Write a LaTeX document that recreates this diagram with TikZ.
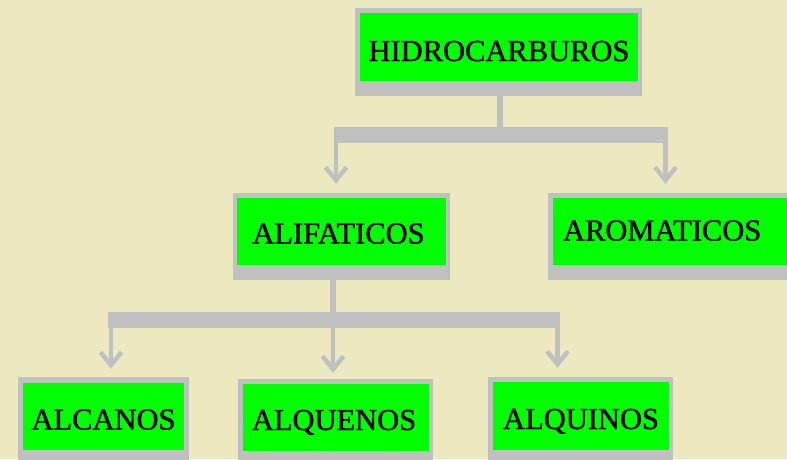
\documentclass[tikz,border=0pt]{standalone}
\usepackage{fontspec}
\setmainfont{Liberation Serif}
\newfontfamily\heavyserif[FakeBold=1.2]{Liberation Serif}
\usetikzlibrary{arrows.meta}
\definecolor{bgc}{RGB}{236,233,192}
\definecolor{greyc}{RGB}{192,192,192}
\definecolor{limec}{RGB}{0,255,0}
\begin{document}
\begin{tikzpicture}[x=1pt,y=-1pt,
  gframe/.style={fill=greyc, draw=none, inner sep=0pt, minimum width=#1},
  gbox/.style={fill=limec, draw=none, inner sep=0pt, minimum width=#1,
    font=\heavyserif\fontsize{30.5}{32}\selectfont, text=black, text height=26pt, text depth=0pt},
  stem/.style={draw=greyc, line width=6.5pt},
  bar/.style={draw=greyc, line width=16pt},
  down/.style={draw=greyc, line width=4.5pt,
    -{Straight Barb[length=13pt,width=21pt,line width=4.5pt]}}
]
\fill[bgc] (0,0) rectangle (787,459);
\useasboundingbox (0,0) rectangle (787,459);

% boxes
\node[gframe=287pt, minimum height=88pt] (hcF) at (498.5,52) {};
\node[gbox=278pt, minimum height=68pt, text height=28pt] (hc) at (499,47) {HIDROCARBUROS};

\node[gframe=217pt, minimum height=87pt] (aliF) at (341.5,236.5) {};
\node[gbox=209pt, minimum height=67pt, text height=24pt] (ali) at (341.5,231.5) {\hspace*{-6pt}ALIFATICOS};

\node[gframe=252pt, minimum height=87pt] (aroF) at (674,236.5) {};
\node[gbox=242pt, minimum height=67pt, text height=18pt, text width=222pt, align=left, inner xsep=10pt] (aro) at (674,231.5) {AROMATICOS};

\node[gframe=171pt, minimum height=87pt] (alcF) at (103.5,420.5) {};
\node[gbox=161pt, minimum height=67pt] (alc) at (103.5,416.5) {ALCANOS};

\node[gframe=195pt, minimum height=87pt] (alqeF) at (335.5,422.5) {};
\node[gbox=186pt, minimum height=67pt, text height=25pt] (alqe) at (336,417.5) {\hspace*{-4pt}ALQUENOS};

\node[gframe=185pt, minimum height=87pt] (alqiF) at (580.5,420.5) {};
\node[gbox=176pt, minimum height=68pt] (alqi) at (581,416) {ALQUINOS};

% top connectors
\coordinate (j1) at (500,135);
\coordinate (b1l) at (334,135);
\coordinate (b1r) at (668,135);
\coordinate (d1) at (336,135);
\coordinate (d2) at (665.5,135);
\draw[stem] (hcF.south -| j1) -- (j1);
\draw[bar] (b1l) -- (b1r);
\draw[down, shorten >=9pt] (d1) -- (d1 |- aliF.north);
\draw[down, shorten >=9pt] (d2) -- (d2 |- aroF.north);

% middle connectors
\coordinate (j2) at (333,320);
\coordinate (b2l) at (108,320);
\coordinate (b2r) at (560,320);
\coordinate (d3) at (111,320);
\coordinate (d4) at (333,320);
\coordinate (d5) at (557.5,320);
\draw[stem] (aliF.south -| j2) -- (j2);
\draw[bar] (b2l) -- (b2r);
\draw[down, shorten >=8pt] (d3) -- (d3 |- alcF.north);
\draw[down, shorten >=6pt] (d4) -- (d4 |- alqeF.north);
\draw[down, shorten >=9pt] (d5) -- (d5 |- alqiF.north);
\end{tikzpicture}
\end{document}
